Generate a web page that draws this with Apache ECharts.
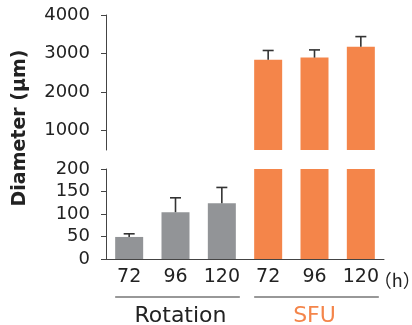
<!DOCTYPE html>
<html>
<head>
<meta charset="utf-8">
<script src="https://cdn.jsdelivr.net/npm/echarts@6/dist/echarts.min.js"></script>
<style>
html, body { margin: 0; padding: 0; background: #fff; }
#chart { width: 412px; height: 325px; }
</style>
</head>
<body>
<div id="chart"></div>
<script>
// data (mean + SD, upward error bars)
var hours = ['72', '96', '120', '72', '96', '120'];
var groups = ['Rotation', 'SFU'];
var rotationMean = [49, 104, 124];
var rotationSd = [7, 32, 35];
var sfuMean = [2840, 2895, 3180];
var sfuSd = [240, 200, 260];
var topTicks = [1000, 2000, 3000, 4000];

var grey = '#929497', orange = '#F4854A', ink = '#333';
var numFont = 'DejaVu Sans';

var means = rotationMean.concat(sfuMean);
var sds = rotationSd.concat(sfuSd);
var barData = means.map(function (v, i) {
    return { value: v, itemStyle: { color: i < 3 ? grey : orange } };
});
// upper panel only carries the SFU bars, lower panel gets all (clipped at 200)
var topBars = barData.map(function (d, i) { return i < 3 ? '-' : d; });
var errTop = [], errBottom = [];
means.forEach(function (v, i) {
    (i < 3 ? errBottom : errTop).push([i, v, v + sds[i]]);
});

function errItem(params, api) {
    var p0 = api.coord([api.value(0), api.value(1)]);
    var p1 = api.coord([api.value(0), api.value(2)]);
    var w = 5.5;
    var st = { stroke: ink, lineWidth: 1.6 };
    return {
        type: 'group',
        children: [
            { type: 'line', shape: { x1: p0[0], y1: p0[1], x2: p1[0], y2: p1[1] }, style: st },
            { type: 'line', shape: { x1: p1[0] - w, y1: p1[1], x2: p1[0] + w, y2: p1[1] }, style: st }
        ]
    };
}

var axisStyle = { lineStyle: { color: '#444', width: 1 } };
function plain(v) { return String(v); }

var option = {
    animation: false,
    grid: [
        { left: 106, width: 278, top: 15, height: 135 },
        { left: 106, width: 278, top: 169, height: 90 }
    ],
    xAxis: [
        { type: 'category', gridIndex: 0, data: hours, show: false },
        {
            type: 'category', gridIndex: 1, data: hours,
            axisLine: axisStyle,
            axisTick: { alignWithLabel: true, length: 5, lineStyle: axisStyle.lineStyle },
            axisLabel: { interval: 0, color: '#222', fontFamily: numFont, fontSize: 19, margin: 9 }
        }
    ],
    yAxis: [
        {
            type: 'value', gridIndex: 0, min: 500, max: 4000,
            axisLine: { show: true, lineStyle: axisStyle.lineStyle },
            axisTick: { show: true, length: 5, customValues: topTicks, lineStyle: axisStyle.lineStyle },
            axisLabel: { customValues: topTicks, formatter: plain, color: '#222', fontFamily: numFont, fontSize: 18, margin: 16 },
            splitLine: { show: false }
        },
        {
            type: 'value', gridIndex: 1, min: 0, max: 200, interval: 50,
            axisLine: { show: true, lineStyle: axisStyle.lineStyle },
            axisTick: { show: true, length: 5, lineStyle: axisStyle.lineStyle },
            axisLabel: { formatter: plain, color: '#222', fontFamily: numFont, fontSize: 18, margin: 16 },
            splitLine: { show: false }
        }
    ],
    series: [
        { type: 'bar', xAxisIndex: 0, yAxisIndex: 0, barWidth: 28, data: topBars, clip: true },
        { type: 'bar', xAxisIndex: 1, yAxisIndex: 1, barWidth: 28, data: barData, clip: true },
        { type: 'custom', xAxisIndex: 0, yAxisIndex: 0, renderItem: errItem, data: errTop, encode: { x: 0, y: [1, 2] }, z: 5 },
        { type: 'custom', xAxisIndex: 1, yAxisIndex: 1, renderItem: errItem, data: errBottom, encode: { x: 0, y: [1, 2] }, z: 5 }
    ]
};

var chart = echarts.init(document.getElementById('chart'));
chart.setOption(option);

// group brackets, group names and the unit, placed from the axis positions
function cx(i) { return chart.convertToPixel({ gridIndex: 1 }, [i, 0])[0]; }
var lineY = 297, textY = 316;
var gfx = [
    {
        type: 'text', x: 20, y: 128, rotation: Math.PI / 2,
        style: { text: 'Diameter (μm)', fill: '#222', font: 'bold 19px "DejaVu Sans"', align: 'center', verticalAlign: 'middle' }
    },
    {
        type: 'text', x: cx(5) + 13, y: 280,
        style: { text: '（h）', fill: '#222', font: '18px "Noto Sans CJK JP"', align: 'left', verticalAlign: 'middle' }
    }
];
groups.forEach(function (g, k) {
    var a = cx(k * 3), b = cx(k * 3 + 2);
    gfx.push({
        type: 'line', shape: { x1: a - 14, y1: lineY, x2: b + 18, y2: lineY },
        style: { stroke: ink, lineWidth: 1.2 }
    });
    gfx.push({
        type: 'text', x: (a + b) / 2 + (k === 0 ? 5 : 0), y: textY,
        style: { text: g, fill: k === 0 ? '#222' : orange, font: '22px "DejaVu Sans"', align: 'center', verticalAlign: 'middle' }
    });
});
chart.setOption({ graphic: gfx });
</script>
</body>
</html>
